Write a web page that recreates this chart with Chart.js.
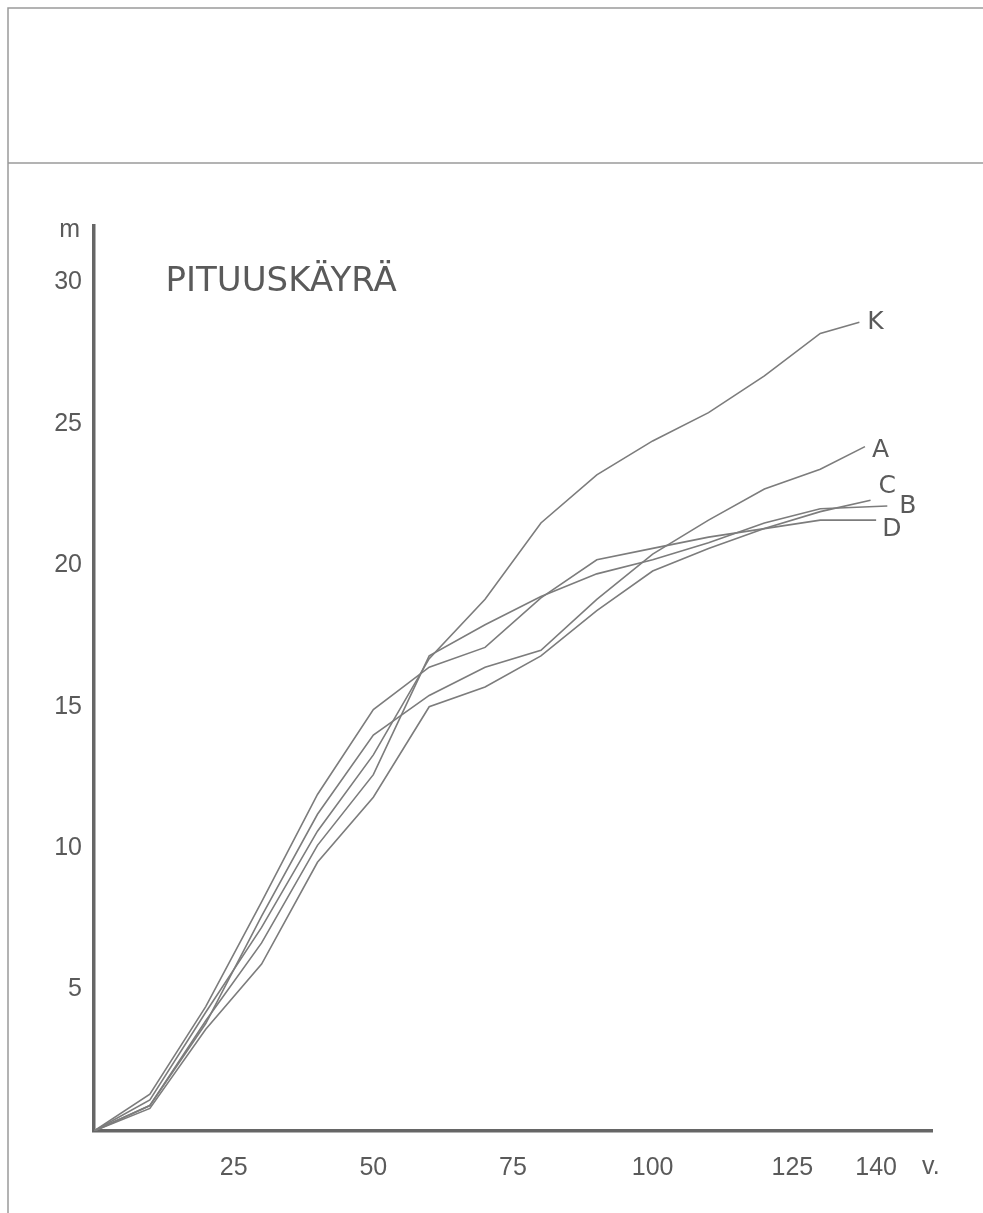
<!DOCTYPE html>
<html>
<head>
<meta charset="utf-8">
<script src="https://cdn.jsdelivr.net/npm/chart.js@4/dist/chart.umd.min.js"></script>
<style>
html,body{margin:0;padding:0;background:#fff;}
#wrap{position:relative;width:983px;height:1213px;}
</style>
</head>
<body>
<div id="wrap"><canvas id="c" width="983" height="1213"></canvas></div>
<script>
// Age (years) at each measured point
const years = [0, 10, 20, 30, 40, 50, 60, 70, 80, 90, 100, 110, 120, 130];
// Heights (m)
const seriesK = [0, 1.1, 4.2, 7.2, 10.6, 13.3, 16.7, 18.8, 21.5, 23.2, 24.4, 25.4, 26.7, 28.2];
const seriesA = [0, 0.9, 3.8, 7.6, 11.2, 14.0, 15.4, 16.4, 17.0, 18.8, 20.4, 21.6, 22.7, 23.4];
const seriesB = [0, 0.9, 3.9, 6.65, 10.1, 12.6, 16.8, 17.9, 18.9, 19.7, 20.2, 20.8, 21.5, 22.0];
const seriesC = [0, 0.8, 3.6, 5.9, 9.5, 11.8, 15.0, 15.7, 16.8, 18.4, 19.8, 20.6, 21.3, 21.9];
const seriesD = [0, 1.3, 4.4, 8.1, 11.9, 14.9, 16.4, 17.1, 18.85, 20.2, 20.6, 21.0, 21.3, 21.6];
// final point of each curve [age, height]
const endK = [137, 28.6];
const endA = [138, 24.2];
const endB = [142, 22.1];
const endC = [139, 22.3];
const endD = [140, 21.6];
const seriesNames = ['K', 'A', 'B', 'C', 'D'];
const xTicks = [25, 50, 75, 100, 125, 140];
const yTicks = [5, 10, 15, 20, 25, 30];
const title = 'PITUUSKÄYRÄ';
const yUnit = 'm';
const xUnit = 'v.';

function pts(vals, end) {
  const p = years.map((y, i) => ({x: y, y: vals[i]}));
  p.push({x: end[0], y: end[1]});
  return p;
}
const allSeries = [[seriesK, endK], [seriesA, endA], [seriesB, endB], [seriesC, endC], [seriesD, endD]];
const labelOffsets = {K: [8, 0], A: [7, 4], B: [12, 1], C: [8, -14], D: [6, 9]};

const LINE = '#7c7c7c';
const AXIS = '#666';
const TXT = '#5a5a5a';
const TICKFONT = {family: 'Liberation Sans', size: 25};

const pagePlugin = {
  id: 'page',
  beforeDraw(chart) {
    const ctx = chart.ctx;
    ctx.save();
    ctx.fillStyle = '#fff';
    ctx.fillRect(0, 0, chart.width, chart.height);
    ctx.strokeStyle = '#9a9a9a';
    ctx.lineWidth = 1.5;
    ctx.beginPath();
    ctx.moveTo(8, 1213); ctx.lineTo(8, 8); ctx.lineTo(983, 8);
    ctx.moveTo(8, 163); ctx.lineTo(983, 163);
    ctx.stroke();
    ctx.restore();
  },
  afterDraw(chart) {
    const ctx = chart.ctx;
    const xs = chart.scales.x, ys = chart.scales.y;
    ctx.save();
    ctx.fillStyle = TXT;
    // title
    ctx.font = '34px "DejaVu Sans"';
    ctx.textBaseline = 'middle';
    ctx.textAlign = 'left';
    ctx.fillText(title, xs.getPixelForValue(12.8), ys.getPixelForValue(30));
    // units
    ctx.font = '25px "Liberation Sans"';
    ctx.textAlign = 'right';
    ctx.fillText(yUnit, xs.left - 14, ys.top + 4);
    ctx.textAlign = 'left';
    ctx.fillText(xUnit, xs.right - 10, ys.bottom + 36);
    // series labels
    ctx.font = '25px "DejaVu Sans"';
    ctx.textAlign = 'left';
    allSeries.forEach((s, i) => {
      const name = seriesNames[i];
      const e = s[1];
      const off = labelOffsets[name];
      ctx.fillText(name, xs.getPixelForValue(e[0]) + off[0], ys.getPixelForValue(e[1]) + off[1]);
    });
    ctx.restore();
  }
};

new Chart(document.getElementById('c'), {
  type: 'scatter',
  data: {
    datasets: allSeries.map((s, i) => ({
      label: seriesNames[i],
      data: pts(s[0], s[1]),
      showLine: true,
      borderColor: LINE,
      borderWidth: 1.6,
      pointRadius: 0,
      tension: 0,
      fill: false
    }))
  },
  options: {
    responsive: false,
    animation: false,
    devicePixelRatio: 1,
    layout: {padding: {left: 0, right: 51, top: 226, bottom: 22}},
    plugins: {legend: {display: false}, tooltip: {enabled: false}},
    scales: {
      x: {
        type: 'linear', min: 0, max: 150,
        afterFit: s => { s.height = 60; },
        afterBuildTicks: s => { s.ticks = xTicks.map(v => ({value: v})); },
        grid: {display: false, drawTicks: false},
        border: {display: true, color: AXIS, width: 3.5},
        ticks: {color: TXT, font: TICKFONT, padding: 22, maxRotation: 0, autoSkip: false}
      },
      y: {
        type: 'linear', min: 0, max: 32,
        afterFit: s => { s.width = 94; },
        afterBuildTicks: s => { s.ticks = yTicks.map(v => ({value: v})); },
        grid: {display: false, drawTicks: false},
        border: {display: true, color: AXIS, width: 3.5},
        ticks: {color: TXT, font: TICKFONT, padding: 12}
      }
    }
  },
  plugins: [pagePlugin]
});
</script>
</body>
</html>
